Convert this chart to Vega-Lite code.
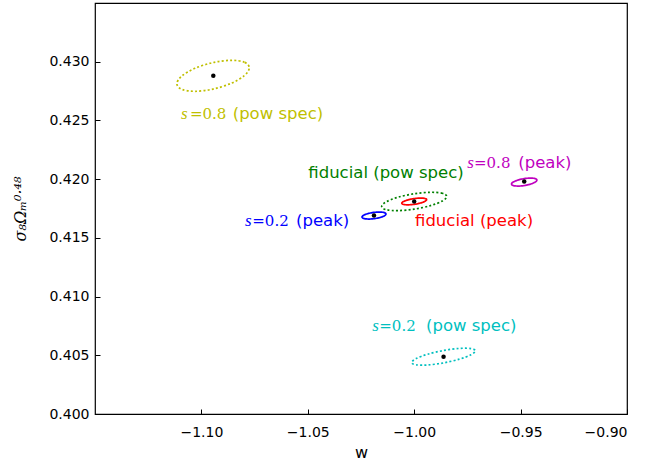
{
  "$schema": "https://vega.github.io/schema/vega-lite/v6.json",
  "width": 532,
  "height": 411,
  "autosize": {"type": "none"},
  "padding": {"left": 95, "top": 3, "right": 22, "bottom": 54},
  "background": "white",
  "config": {
    "view": {"stroke": "black", "strokeWidth": 1.2},
    "axis": {
      "domain": false,
      "grid": false,
      "ticks": true,
      "tickSize": -5,
      "tickColor": "black",
      "tickWidth": 1,
      "labelFont": "DejaVu Sans",
      "labelFontSize": 14,
      "labelColor": "black",
      "titleColor": "black",
      "titleFontWeight": "normal"
    }
  },
  "datasets": {
    "ellipses": [
      {"name":"y08","kind":"pow","i":0,"w":-1.0775,"sigma":0.42948},
      {"name":"y08","kind":"pow","i":1,"w":-1.07978,"sigma":0.429954},
      {"name":"y08","kind":"pow","i":2,"w":-1.086,"sigma":0.430119},
      {"name":"y08","kind":"pow","i":3,"w":-1.0945,"sigma":0.42993},
      {"name":"y08","kind":"pow","i":4,"w":-1.103,"sigma":0.429439},
      {"name":"y08","kind":"pow","i":5,"w":-1.10922,"sigma":0.428776},
      {"name":"y08","kind":"pow","i":6,"w":-1.1115,"sigma":0.42812},
      {"name":"y08","kind":"pow","i":7,"w":-1.10922,"sigma":0.427646},
      {"name":"y08","kind":"pow","i":8,"w":-1.103,"sigma":0.427481},
      {"name":"y08","kind":"pow","i":9,"w":-1.0945,"sigma":0.42767},
      {"name":"y08","kind":"pow","i":10,"w":-1.086,"sigma":0.428161},
      {"name":"y08","kind":"pow","i":11,"w":-1.07978,"sigma":0.428824},

      {"name":"gfid","kind":"pow","i":0,"w":-0.98473,"sigma":0.418526},
      {"name":"gfid","kind":"pow","i":1,"w":-0.98677,"sigma":0.418798},
      {"name":"gfid","kind":"pow","i":2,"w":-0.99236,"sigma":0.418882},
      {"name":"gfid","kind":"pow","i":3,"w":-1.0,"sigma":0.418757},
      {"name":"gfid","kind":"pow","i":4,"w":-1.00764,"sigma":0.418456},
      {"name":"gfid","kind":"pow","i":5,"w":-1.01323,"sigma":0.41806},
      {"name":"gfid","kind":"pow","i":6,"w":-1.01527,"sigma":0.417674},
      {"name":"gfid","kind":"pow","i":7,"w":-1.01323,"sigma":0.417402},
      {"name":"gfid","kind":"pow","i":8,"w":-1.00764,"sigma":0.417318},
      {"name":"gfid","kind":"pow","i":9,"w":-1.0,"sigma":0.417443},
      {"name":"gfid","kind":"pow","i":10,"w":-0.99236,"sigma":0.417744},
      {"name":"gfid","kind":"pow","i":11,"w":-0.98677,"sigma":0.41814},

      {"name":"rfid","kind":"peak","i":0,"w":-0.99417,"sigma":0.418253},
      {"name":"rfid","kind":"peak","i":1,"w":-0.99495,"sigma":0.418356},
      {"name":"rfid","kind":"peak","i":2,"w":-0.99709,"sigma":0.418389},
      {"name":"rfid","kind":"peak","i":3,"w":-1.0,"sigma":0.418345},
      {"name":"rfid","kind":"peak","i":4,"w":-1.00291,"sigma":0.418236},
      {"name":"rfid","kind":"peak","i":5,"w":-1.00505,"sigma":0.41809},
      {"name":"rfid","kind":"peak","i":6,"w":-1.00583,"sigma":0.417947},
      {"name":"rfid","kind":"peak","i":7,"w":-1.00505,"sigma":0.417844},
      {"name":"rfid","kind":"peak","i":8,"w":-1.00291,"sigma":0.417812},
      {"name":"rfid","kind":"peak","i":9,"w":-1.0,"sigma":0.417855},
      {"name":"rfid","kind":"peak","i":10,"w":-0.99709,"sigma":0.417965},
      {"name":"rfid","kind":"peak","i":11,"w":-0.99495,"sigma":0.41811},

      {"name":"b02","kind":"peak","i":0,"w":-1.01326,"sigma":0.417028},
      {"name":"b02","kind":"peak","i":1,"w":-1.01402,"sigma":0.417146},
      {"name":"b02","kind":"peak","i":2,"w":-1.01608,"sigma":0.417197},
      {"name":"b02","kind":"peak","i":3,"w":-1.0189,"sigma":0.417169},
      {"name":"b02","kind":"peak","i":4,"w":-1.02172,"sigma":0.417069},
      {"name":"b02","kind":"peak","i":5,"w":-1.02378,"sigma":0.416924},
      {"name":"b02","kind":"peak","i":6,"w":-1.02454,"sigma":0.416772},
      {"name":"b02","kind":"peak","i":7,"w":-1.02378,"sigma":0.416654},
      {"name":"b02","kind":"peak","i":8,"w":-1.02172,"sigma":0.416603},
      {"name":"b02","kind":"peak","i":9,"w":-1.0189,"sigma":0.416631},
      {"name":"b02","kind":"peak","i":10,"w":-1.01608,"sigma":0.416731},
      {"name":"b02","kind":"peak","i":11,"w":-1.01402,"sigma":0.416876},

      {"name":"m08","kind":"peak","i":0,"w":-0.94233,"sigma":0.41992},
      {"name":"m08","kind":"peak","i":1,"w":-0.94313,"sigma":0.420045},
      {"name":"m08","kind":"peak","i":2,"w":-0.94532,"sigma":0.42009},
      {"name":"m08","kind":"peak","i":3,"w":-0.9483,"sigma":0.420045},
      {"name":"m08","kind":"peak","i":4,"w":-0.95128,"sigma":0.41992},
      {"name":"m08","kind":"peak","i":5,"w":-0.95347,"sigma":0.419751},
      {"name":"m08","kind":"peak","i":6,"w":-0.95427,"sigma":0.41958},
      {"name":"m08","kind":"peak","i":7,"w":-0.95347,"sigma":0.419455},
      {"name":"m08","kind":"peak","i":8,"w":-0.95128,"sigma":0.41941},
      {"name":"m08","kind":"peak","i":9,"w":-0.9483,"sigma":0.419455},
      {"name":"m08","kind":"peak","i":10,"w":-0.94532,"sigma":0.41958},
      {"name":"m08","kind":"peak","i":11,"w":-0.94313,"sigma":0.419749},

      {"name":"c02","kind":"pow","i":0,"w":-0.9713,"sigma":0.405374},
      {"name":"c02","kind":"pow","i":1,"w":-0.9733,"sigma":0.405572},
      {"name":"c02","kind":"pow","i":2,"w":-0.97875,"sigma":0.405584},
      {"name":"c02","kind":"pow","i":3,"w":-0.9862,"sigma":0.405408},
      {"name":"c02","kind":"pow","i":4,"w":-0.99365,"sigma":0.40509},
      {"name":"c02","kind":"pow","i":5,"w":-0.9991,"sigma":0.404716},
      {"name":"c02","kind":"pow","i":6,"w":-1.0011,"sigma":0.404386},
      {"name":"c02","kind":"pow","i":7,"w":-0.9991,"sigma":0.404188},
      {"name":"c02","kind":"pow","i":8,"w":-0.99365,"sigma":0.404176},
      {"name":"c02","kind":"pow","i":9,"w":-0.9862,"sigma":0.404352},
      {"name":"c02","kind":"pow","i":10,"w":-0.97875,"sigma":0.40467},
      {"name":"c02","kind":"pow","i":11,"w":-0.9733,"sigma":0.405044}
    ],
    "centers": [
      {"name":"y08","w":-1.0944,"sigma":0.4288},
      {"name":"fid","w":-1.0,"sigma":0.4181},
      {"name":"b02","w":-1.0189,"sigma":0.4169},
      {"name":"m08","w":-0.9483,"sigma":0.4198},
      {"name":"c02","w":-0.9862,"sigma":0.40488}
    ],
    "labels": [
      {"name":"y08","seg":"var","text":"s","w":-1.10959,"sigma":0.42508},
      {"name":"y08","seg":"num","text":"=0.8","w":-1.10536,"sigma":0.42508},
      {"name":"y08","seg":"txt","text":"(pow spec)","w":-1.08529,"sigma":0.42508},
      {"name":"gfid","seg":"txt","text":"fiducial (pow spec)","w":-1.04977,"sigma":0.42007},
      {"name":"b02","seg":"var","text":"s","w":-1.07951,"sigma":0.41601},
      {"name":"b02","seg":"num","text":"=0.2","w":-1.07608,"sigma":0.41601},
      {"name":"b02","seg":"txt","text":"(peak)","w":-1.05555,"sigma":0.41601},
      {"name":"rfid","seg":"txt","text":"fiducial (peak)","w":-0.99963,"sigma":0.41601},
      {"name":"m08","seg":"var","text":"s","w":-0.97505,"sigma":0.420975},
      {"name":"m08","seg":"num","text":"=0.8","w":-0.9719,"sigma":0.420975},
      {"name":"m08","seg":"txt","text":"(peak)","w":-0.95108,"sigma":0.420975},
      {"name":"c02","seg":"var","text":"s","w":-1.01969,"sigma":0.407094},
      {"name":"c02","seg":"num","text":"=0.2","w":-1.0164,"sigma":0.407094},
      {"name":"c02","seg":"txt","text":"(pow spec)","w":-0.99446,"sigma":0.407094}
    ]
  },
  "encoding": {
    "x": {
      "field": "w", "type": "quantitative",
      "scale": {"domain": [-1.15, -0.9], "nice": false, "zero": false},
      "axis": {
        "values": [-1.1, -1.05, -1.0, -0.95, -0.9],
        "format": ".2f",
        "title": "w",
        "titleFont": "DejaVu Sans",
        "titleFontSize": 16,
        "labelPadding": 16,
        "titlePadding": 5
      }
    },
    "y": {
      "field": "sigma", "type": "quantitative",
      "scale": {"domain": [0.4, 0.435], "nice": false, "zero": false},
      "axis": {
        "values": [0.4, 0.405, 0.41, 0.415, 0.42, 0.425, 0.43],
        "format": ".3f",
        "title": "σ₈Ωₘ⁰·⁴⁸",
        "titleFont": "DejaVu Serif",
        "titleFontStyle": "italic",
        "titleFontSize": 16,
        "labelPadding": 11,
        "titlePadding": 20
      }
    }
  },
  "layer": [
    {
      "data": {"name": "ellipses"},
      "mark": {"type": "line", "interpolate": "cardinal-closed", "strokeWidth": 1.7, "clip": true},
      "encoding": {
        "order": {"field": "i", "type": "quantitative"},
        "detail": {"field": "name", "type": "nominal"},
        "color": {
          "field": "name", "type": "nominal", "legend": null,
          "scale": {
            "domain": ["y08","gfid","rfid","b02","m08","c02"],
            "range": ["#bfbf00","#008000","#ff0000","#0000ff","#bf00bf","#00bfbf"]
          }
        },
        "strokeDash": {
          "field": "kind", "type": "nominal", "legend": null,
          "scale": {"domain": ["pow","peak"], "range": [[2, 2.2], [1, 0]]}
        }
      }
    },
    {
      "data": {"name": "centers"},
      "mark": {"type": "point", "filled": true, "color": "black", "size": 20, "opacity": 1}
    },
    {
      "data": {"name": "labels"},
      "transform": [{"filter": "datum.seg === 'var'"}],
      "mark": {"type": "text", "align": "left", "baseline": "alphabetic", "font": "Liberation Serif", "fontStyle": "italic", "fontSize": 17},
      "encoding": {
        "text": {"field": "text"},
        "color": {"field": "name", "type": "nominal", "legend": null}
      }
    },
    {
      "data": {"name": "labels"},
      "transform": [{"filter": "datum.seg === 'num'"}],
      "mark": {"type": "text", "align": "left", "baseline": "alphabetic", "font": "DejaVu Serif", "fontSize": 15},
      "encoding": {
        "text": {"field": "text"},
        "color": {"field": "name", "type": "nominal", "legend": null}
      }
    },
    {
      "data": {"name": "labels"},
      "transform": [{"filter": "datum.seg === 'txt'"}],
      "mark": {"type": "text", "align": "left", "baseline": "alphabetic", "font": "DejaVu Sans", "fontSize": 16.5},
      "encoding": {
        "text": {"field": "text"},
        "color": {"field": "name", "type": "nominal", "legend": null}
      }
    }
  ]
}
